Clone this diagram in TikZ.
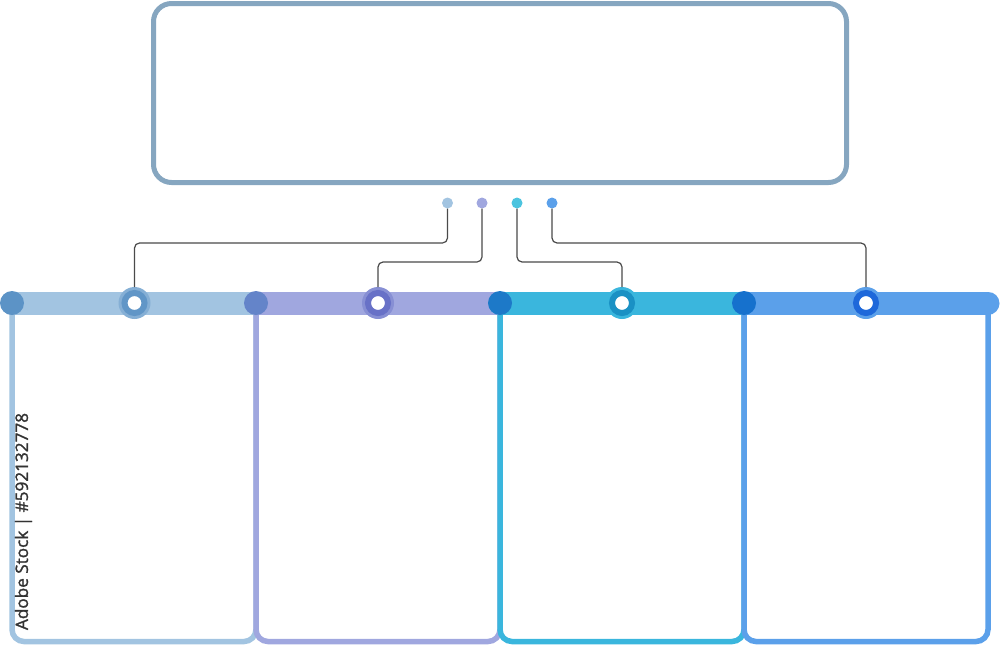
\documentclass[tikz,border=0pt]{standalone}
\usepackage{fontspec}
\newfontfamily\wmfont[FakeBold=1.5]{Open Sans}
\definecolor{topc}{HTML}{86A6C0}
\definecolor{bA}{HTML}{A2C4E1}
\definecolor{bB}{HTML}{A0A7DF}
\definecolor{bC}{HTML}{3AB6DD}
\definecolor{bD}{HTML}{5BA0EA}
\definecolor{sA}{HTML}{5C93C6}
\definecolor{sB}{HTML}{6484C9}
\definecolor{sC}{HTML}{1D79C8}
\definecolor{sD}{HTML}{1671CD}
\definecolor{kA}{HTML}{6196C7}
\definecolor{kB}{HTML}{6871C7}
\definecolor{kC}{HTML}{1A91C4}
\definecolor{kD}{HTML}{1E68DA}
\definecolor{dC}{HTML}{4CC4DF}
\definecolor{connc}{HTML}{4A4A4A}
\definecolor{wmc}{HTML}{333333}
\tikzset{
  topbox/.style={draw=topc, line width=5pt, rounded corners=18pt, minimum width=693pt, minimum height=179pt, inner sep=0pt, fill=white},
  boxline/.style={line width=5.5pt, rounded corners=12pt},
  bandseg/.style={line width=23pt, line cap=round},
  startdot/.style={circle, minimum size=24pt, inner sep=0pt, outer sep=0pt},
  halo/.style={circle, minimum size=32pt, inner sep=0pt, outer sep=0pt},
  ringcore/.style={circle, fill=white, line width=6pt, minimum size=20pt, inner sep=0pt},
  smalldot/.style={circle, minimum size=11pt, inner sep=0pt, outer sep=0pt},
  conn/.style={draw=connc, line width=1.2pt, rounded corners=5pt},
}
\begin{document}
\begin{tikzpicture}[x=1pt,y=-1pt]
\useasboundingbox (0,0) rectangle (1000,645);
% top box
\node[topbox] (top) at (500,93) {};
% boxes
\draw[boxline, draw=bA] (12,303) -- (12,641.5) -- (256,641.5) -- (256,303);
\draw[boxline, draw=bB] (256,303) -- (256,641.5) -- (500,641.5) -- (500,303);
\draw[boxline, draw=bC] (500,303) -- (500,641.5) -- (744,641.5) -- (744,303);
\draw[boxline, draw=bD] (744,303) -- (744,641.5) -- (988,641.5) -- (988,303);
% band
\draw[bandseg, draw=bA] (12,303) -- (256,303);
\node[startdot, fill=sA] (sa) at (12,303) {};
\draw[bandseg, draw=bB] (256,303) -- (500,303);
\node[startdot, fill=sB] (sb) at (256,303) {};
\draw[bandseg, draw=bC] (500,303) -- (744,303);
\node[startdot, fill=sC] (sc) at (500,303) {};
\draw[bandseg, draw=bD] (744,303) -- (988,303);
\node[startdot, fill=sD] (sd) at (744,303) {};
% rings
\node[halo, fill=bA!55!kA] (ra) at (134.5,303) {};
\node[ringcore, draw=kA] (rca) at (ra.center) {};
\node[halo, fill=bB!55!kB] (rb) at (378,303) {};
\node[ringcore, draw=kB] (rcb) at (rb.center) {};
\node[halo, fill=bC] (rc) at (622,303) {};
\node[ringcore, draw=kC] (rcc) at (rc.center) {};
\node[halo, fill=bD] (rd) at (866,303) {};
\node[ringcore, draw=kD] (rcd) at (rd.center) {};
% small dots
\node[smalldot, fill=bA] (da) at (447.5,203) {};
\node[smalldot, fill=bB] (db) at (482,203) {};
\node[smalldot, fill=dC] (dc) at (517,203) {};
\node[smalldot, fill=bD] (dd) at (552,203) {};
% connectors
\draw[conn] (da.south) -- (da.center |- 0,243) -- (ra.center |- 0,243) -- (ra.north);
\draw[conn] (db.south) -- (db.center |- 0,262) -- (rb.center |- 0,262) -- (rb.north);
\draw[conn] (dc.south) -- (dc.center |- 0,262) -- (rc.center |- 0,262) -- (rc.north);
\draw[conn] (dd.south) -- (dd.center |- 0,243) -- (rd.center |- 0,243) -- (rd.north);
% watermark text
\node[rotate=90, text=wmc, inner sep=0pt] (wm) at (23.5,521.5) {\resizebox{217pt}{!}{\wmfont Adobe Stock | \#592132778}};
\end{tikzpicture}
\end{document}
